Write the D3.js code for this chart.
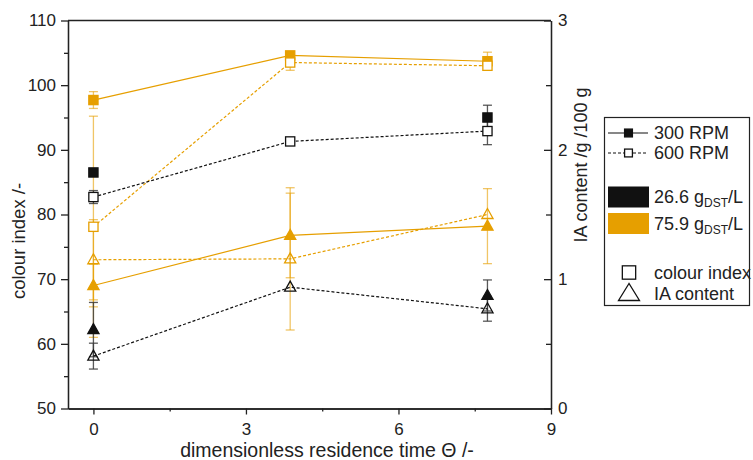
<!DOCTYPE html>
<html>
<head>
<meta charset="utf-8">
<script src="https://cdn.jsdelivr.net/npm/d3@7"></script>
<style>
  html, body { margin: 0; padding: 0; background: #fff; }
  text { font-family: "Liberation Sans", Arial, sans-serif; fill: #222; }
</style>
</head>
<body>
<svg id="chart" width="753" height="460"></svg>
<script>
// ---- data ----
const theta = [0, 3.87, 7.75];

// colour index (left axis)
const ci300_26 = [86.5, null, 95.0];
const ci300_26_err = [0, 0, 1.9];
const ci600_26 = [82.7, 91.3, 92.9];
const ci600_26_err = [1.0, 0, 2.1];
const ci300_76 = [97.7, 104.6, 103.7];
const ci300_76_err = [1.3, 0, 1.4];
const ci600_76 = [78.1, 103.5, 103.0];
const ci600_76_err = [17.1, 1.2, 0];

// IA content (right axis)
const ia300_26 = [0.61, null, 0.874];
const ia300_26_err = [0.21, 0, 0.12];
const ia600_26 = [0.405, 0.938, 0.771];
const ia600_26_err = [0.10, 0, 0.096];
const ia300_76 = [0.951, 1.338, 1.41];
const ia300_76_err = [0.165, 0.327, 0.29];
const ia600_76 = [1.15, 1.157, 1.50];
const ia600_76_err = [0.31, 0.55, 0];

const xTicks = [0, 3, 6, 9];
const xMinor = [1.5, 4.5, 7.5];
const leftTicks = [50, 60, 70, 80, 90, 100, 110];
const leftMinor = [55, 65, 75, 85, 95, 105];
const rightTicks = [0, 1, 2, 3];
const rightMinor = [0.5, 1.5, 2.5];

const legendRpm = ["300 RPM", "600 RPM"];
const legendConc = ["26.6", "75.9"];
const legendShape = ["colour index", "IA content"];

// ---- drawing ----
const BLACK = "#111";
const ORANGE = "#E69F00";
const svg = d3.select("#chart");
const axisColor = "#222";

const x = d3.scaleLinear().domain([-0.5, 9]).range([68, 551]);
const yL = d3.scaleLinear().domain([50, 110]).range([408.5, 20.5]);
const yR = d3.scaleLinear().domain([0, 3]).range([408.5, 20.5]);

const series = [
  {v: ci300_76, e: ci300_76_err, y: yL, color: ORANGE, shape: "square", filled: true, line: "solid"},
  {v: ci600_76, e: ci600_76_err, y: yL, color: ORANGE, shape: "square", filled: false, line: "dash"},
  {v: ia300_76, e: ia300_76_err, y: yR, color: ORANGE, shape: "tri", filled: true, line: "solid"},
  {v: ia600_76, e: ia600_76_err, y: yR, color: ORANGE, shape: "tri", filled: false, line: "dash"},
  {v: ci300_26, e: ci300_26_err, y: yL, color: BLACK, shape: "square", filled: true, line: "solid"},
  {v: ci600_26, e: ci600_26_err, y: yL, color: BLACK, shape: "square", filled: false, line: "dash"},
  {v: ia300_26, e: ia300_26_err, y: yR, color: BLACK, shape: "tri", filled: true, line: "solid"},
  {v: ia600_26, e: ia600_26_err, y: yR, color: BLACK, shape: "tri", filled: false, line: "dash"},
];

function pts(s) {
  return theta.map((t, i) => ({t, v: s.v[i], e: s.e[i]})).filter(d => d.v !== null);
}

// error bars
const gErr = svg.append("g");
series.forEach(s => {
  const col = s.color === ORANGE ? "rgba(230,159,0,0.6)" : "rgba(60,60,60,0.85)";
  pts(s).filter(d => d.e > 0).forEach(d => {
    const cx = x(d.t), y1 = s.y(d.v - d.e), y2 = s.y(d.v + d.e);
    gErr.append("line").attr("x1", cx).attr("x2", cx).attr("y1", y1).attr("y2", y2)
      .attr("stroke", col).attr("stroke-width", 1.3);
    [y1, y2].forEach(yy => gErr.append("line").attr("x1", cx - 4.5).attr("x2", cx + 4.5)
      .attr("y1", yy).attr("y2", yy).attr("stroke", col).attr("stroke-width", 1.3));
  });
});

// lines
const gLine = svg.append("g");
series.forEach(s => {
  const line = d3.line().defined((d, i) => s.v[i] !== null)
    .x((d, i) => x(theta[i])).y((d, i) => s.y(s.v[i]));
  gLine.append("path").datum(s.v).attr("d", line)
    .attr("fill", "none").attr("stroke", s.color).attr("stroke-width", 1.2)
    .attr("stroke-dasharray", s.line === "dash" ? "3,2" : null);
});

// markers
function marker(g, shape, cx, cy, color, filled, scale) {
  scale = scale || 1;
  if (shape === "square") {
    const h = 4.6 * scale;
    g.append("rect").attr("x", cx - h).attr("y", cy - h).attr("width", 2 * h).attr("height", 2 * h)
      .attr("fill", filled ? color : "#fff").attr("stroke", color).attr("stroke-width", 1.3);
  } else {
    const w = 5.6 * scale, up = 6 * scale, dn = 4 * scale;
    g.append("path").attr("d", `M${cx},${cy - up}L${cx - w},${cy + dn}L${cx + w},${cy + dn}Z`)
      .attr("fill", filled ? color : "none").attr("stroke", color).attr("stroke-width", 1.3)
      .attr("stroke-linejoin", "miter");
  }
}
const gMark = svg.append("g");
series.forEach(s => {
  pts(s).forEach(d => marker(gMark, s.shape, x(d.t), s.y(d.v), s.color, s.filled));
});

// axes
const fs = "17px";
const gL = svg.append("g").attr("transform", "translate(68,0)")
  .call(d3.axisLeft(yL).tickValues(leftTicks).tickSize(7).tickSizeOuter(0).tickPadding(5));
const gLm = svg.append("g").attr("transform", "translate(68,0)")
  .call(d3.axisLeft(yL).tickValues(leftMinor).tickSize(4).tickSizeOuter(0).tickFormat(""));
const gB = svg.append("g").attr("transform", "translate(0,408.5)")
  .call(d3.axisBottom(x).tickValues(xTicks).tickSize(6).tickSizeOuter(0).tickPadding(8));
const gBm = svg.append("g").attr("transform", "translate(0,408.5)")
  .call(d3.axisBottom(x).tickValues(xMinor).tickSize(3).tickSizeOuter(0).tickFormat(""));
const gR = svg.append("g").attr("transform", "translate(551,0)")
  .call(d3.axisRight(yR).tickValues(rightTicks).tickSizeInner(-7).tickSizeOuter(0).tickPadding(7)
    .tickFormat(d3.format("d")));
const gRm = svg.append("g").attr("transform", "translate(551,0)")
  .call(d3.axisRight(yR).tickValues(rightMinor).tickSizeInner(-5).tickSizeOuter(0).tickFormat(""));
[gL, gLm, gB, gBm, gR, gRm].forEach(g => {
  g.selectAll("path, line").attr("stroke", axisColor).attr("stroke-width", 1.3);
  g.selectAll("text").attr("font-size", fs).attr("fill", "#222")
    .attr("font-family", '"Liberation Sans", Arial, sans-serif');
});
// top frame
svg.append("line").attr("x1", 68).attr("x2", 551).attr("y1", 20.5).attr("y2", 20.5)
  .attr("stroke", axisColor).attr("stroke-width", 1.3);

// axis titles
svg.append("text").attr("x", 327).attr("y", 457).attr("text-anchor", "middle")
  .attr("font-size", "19.5px").text("dimensionless residence time Θ /-");
svg.append("text").attr("transform", "translate(25,241) rotate(-90)").attr("text-anchor", "middle")
  .attr("font-size", "18.5px").text("colour index /-");
svg.append("text").attr("transform", "translate(587,165) rotate(-90)").attr("text-anchor", "middle")
  .attr("font-size", "18px").text("IA content /g /100 g");

// legend
const lg = svg.append("g");
lg.append("rect").attr("x", 604.5).attr("y", 117.5).attr("width", 145).attr("height", 188)
  .attr("fill", "#fff").attr("stroke", axisColor).attr("stroke-width", 1.2);
const lfs = "18px";
const rowsRpm = [133, 153];
legendRpm.forEach((t, i) => {
  const yy = rowsRpm[i];
  lg.append("line").attr("x1", 608).attr("x2", 648).attr("y1", yy).attr("y2", yy)
    .attr("stroke", BLACK).attr("stroke-width", 1.2)
    .attr("stroke-dasharray", i === 1 ? "3,2" : null);
  marker(lg, "square", 628.5, yy, BLACK, i === 0, 0.85);
  lg.append("text").attr("x", 654).attr("y", yy).attr("dy", "0.36em").attr("font-size", lfs).text(t);
});
const rowsConc = [197, 223.5];
const concColors = [BLACK, ORANGE];
legendConc.forEach((t, i) => {
  const yy = rowsConc[i];
  lg.append("rect").attr("x", 608).attr("y", yy - 10.5).attr("width", 41).attr("height", 21)
    .attr("fill", concColors[i]);
  const tx = lg.append("text").attr("x", 654).attr("y", yy).attr("dy", "0.36em").attr("font-size", lfs);
  tx.append("tspan").text(t + " g");
  tx.append("tspan").attr("font-size", "12px").attr("dy", "4").text("DST");
  tx.append("tspan").attr("dy", "-4").text("/L");
});
const rowsShape = [272.5, 293.5];
marker(lg, "square", 629, rowsShape[0], BLACK, false, 1.45);
lg.append("path").attr("d", `M629,${rowsShape[1] - 10}L618.5,${rowsShape[1] + 7}L639.5,${rowsShape[1] + 7}Z`)
  .attr("fill", "none").attr("stroke", BLACK).attr("stroke-width", 1.3);
legendShape.forEach((t, i) => {
  lg.append("text").attr("x", 654).attr("y", rowsShape[i]).attr("dy", "0.36em").attr("font-size", lfs).text(t);
});
</script>
</body>
</html>
